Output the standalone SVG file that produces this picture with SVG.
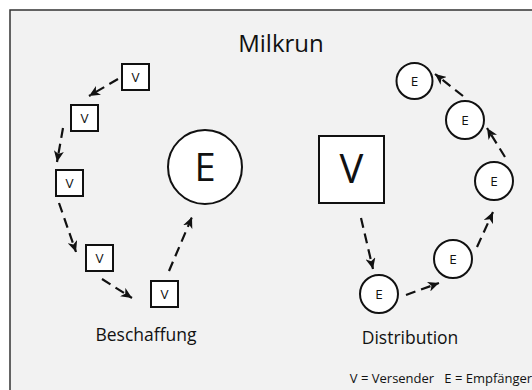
<svg xmlns="http://www.w3.org/2000/svg" width="532" height="390" viewBox="0 0 532 390">
<style>
text{font-family:"Open Sans","DejaVu Sans",sans-serif;fill:#111;text-anchor:middle}
.n{fill:#fff;stroke:#111;stroke-width:2}
.c line{stroke:#111;stroke-width:2.2;stroke-dasharray:10 6}
.s{font-size:13.5px}
</style>
<defs>
<marker id="ah" markerUnits="userSpaceOnUse" markerWidth="12" markerHeight="10" refX="11" refY="5" orient="auto">
<path d="M0,0 L11,5 L0,10 L3,5 z" fill="#111"/>
</marker>
</defs>
<rect x="0" y="0" width="532" height="390" fill="#fff"/>
<rect x="10" y="10" width="540" height="400" fill="#f2f2f2" stroke="#333" stroke-width="1.5"/>
<text x="281" y="52" style="font-size:24px">Milkrun</text>
<g class="c">
<line x1="118" y1="79" x2="89" y2="96" marker-end="url(#ah)"/>
<line x1="63" y1="128" x2="57" y2="162" marker-end="url(#ah)"/>
<line x1="59" y1="203" x2="76" y2="252" marker-end="url(#ah)"/>
<line x1="102" y1="279" x2="132" y2="298" marker-end="url(#ah)"/>
<line x1="169" y1="271" x2="192" y2="217" marker-end="url(#ah)"/>
<line x1="361" y1="218" x2="373" y2="269" marker-end="url(#ah)"/>
<line x1="406" y1="295" x2="439" y2="283" marker-end="url(#ah)"/>
<line x1="477" y1="247" x2="493" y2="212" marker-end="url(#ah)"/>
<line x1="505" y1="157" x2="487" y2="128" marker-end="url(#ah)"/>
<line x1="463" y1="96" x2="435" y2="74" marker-end="url(#ah)"/>
</g>
<g id="v1"><rect class="n" x="122" y="64" width="27" height="26"/><text class="s" x="135.5" y="82">V</text></g>
<g id="v2"><rect class="n" x="71" y="105" width="27" height="26"/><text class="s" x="84.5" y="123">V</text></g>
<g id="v3"><rect class="n" x="56" y="170" width="27" height="26"/><text class="s" x="69.5" y="188">V</text></g>
<g id="v4"><rect class="n" x="86" y="245" width="27" height="26"/><text class="s" x="99.5" y="263">V</text></g>
<g id="v5"><rect class="n" x="151" y="281" width="27" height="26"/><text class="s" x="164.5" y="299">V</text></g>
<g id="ebig"><circle class="n" cx="205" cy="167" r="37"/><text x="205" y="181" style="font-size:38px">E</text></g>
<g id="vbig"><rect class="n" x="319" y="136" width="65" height="67"/><text x="351.5" y="183" style="font-size:40px">V</text></g>
<g id="e1"><circle class="n" cx="379" cy="294" r="19"/><text class="s" x="379" y="299">E</text></g>
<g id="e2"><circle class="n" cx="453" cy="259" r="19"/><text class="s" x="453" y="264">E</text></g>
<g id="e3"><circle class="n" cx="494" cy="181" r="19"/><text class="s" x="494" y="186">E</text></g>
<g id="e4"><circle class="n" cx="465" cy="120" r="19"/><text class="s" x="465" y="125">E</text></g>
<g id="e5"><circle class="n" cx="414.5" cy="81" r="18"/><text class="s" x="414.5" y="86">E</text></g>
<text x="146" y="341" style="font-size:17.5px">Beschaffung</text>
<text x="410" y="344" style="font-size:17.5px">Distribution</text>
<text x="441" y="383" style="font-size:13px;white-space:pre" xml:space="preserve">V = Versender   E = Empfänger</text>
</svg>
